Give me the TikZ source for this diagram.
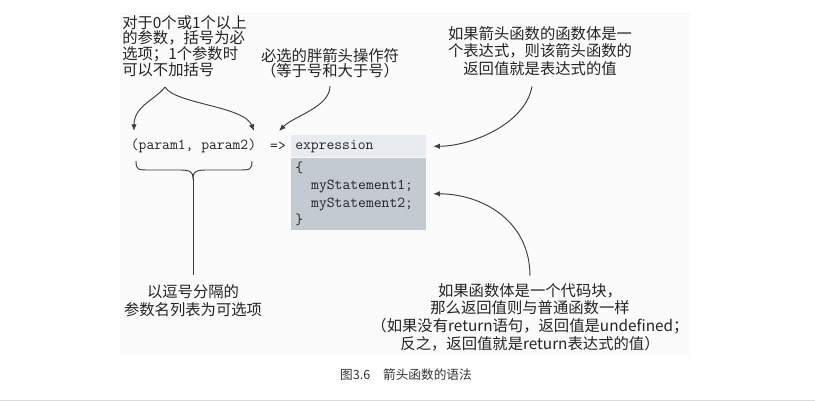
\documentclass[tikz,border=0pt]{standalone}
\usepackage{fontspec}
\newfontfamily\cjk{Noto Sans CJK SC}
\usetikzlibrary{arrows.meta}
\definecolor{panelbg}{RGB}{251,251,251}
\definecolor{exprbg}{RGB}{232,236,240}
\definecolor{bodybg}{RGB}{196,202,210}
\definecolor{ink}{RGB}{35,35,35}
\definecolor{wire}{RGB}{60,60,60}
\definecolor{rulegray}{RGB}{221,221,221}
\begin{document}
\begin{tikzpicture}[x=0.75pt, y=-0.75pt,
    note/.style={inner sep=0pt, text=ink, align=center, font=\cjk\fontsize{11.5}{#1}\selectfont},
    note/.default=13.2,
    code/.style={inner sep=0pt, text=ink, font=\ttfamily\fontsize{11.4}{13.1}\selectfont},
    callout/.style={draw=wire, line width=0.7pt, -{Latex[length=5pt,width=4pt]}},
    bracket/.style={draw=wire, line width=0.7pt}]
    \useasboundingbox (0,0) rectangle (815,403);
    \fill[panelbg] (120,12) rectangle (690,355);
    \draw[rulegray, line width=0.75pt] (0,400.5) -- (815,400.5);

    \node[code] (params) at (193.5,146) {(param1, param2)};
    \node[code] (fatarrow) at (278,146) {=>};
    \node[code, fill=exprbg, anchor=north west, align=left, text width=95.25pt,
        inner xsep=3pt, minimum height=16.5pt] (expr) at (291,135) {expression};
    \node[code, fill=bodybg, anchor=north west, align=left, text width=95.25pt,
        inner xsep=3pt, minimum height=54pt] (body) at (expr.south west)
        {\{\\\hspace*{1.05em}myStatement1;\\\hspace*{1.05em}myStatement2;\\\}};

    \node[note=11.7, align=left, anchor=west] (paramnote) at (122,46)
        {对于0个或1个以上\\的参数，括号为必\\选项；1个参数时\\可以不加括号};
    \node[note=11.3] (arrownote) at (330,63) {必选的胖箭头操作符\\（等于号和大于号）};
    \node[note=13.1] (exprnote) at (540,51)
        {如果箭头函数的函数体是一\\个表达式，则该箭头函数的\\返回值就是表达式的值};
    \node[note=13.5] (listnote) at (193,301) {以逗号分隔的\\参数名列表为可选项};
    \node[note=13.3] (bodynote) at (530,317)
        {如果函数体是一个代码块，\\那么返回值则与普通函数一样\\（如果没有return语句，返回值是undefined；\\反之，返回值就是return表达式的值）};
    \node[text=black!80, font=\cjk\fontsize{9.5}{11}\selectfont] (caption) at (406,375)
        {图3.6\quad 箭头函数的语法};

    \coordinate (paramtip) at (165,87);
    \coordinate (paramopen) at (134,131);
    \coordinate (paramclose) at (254,131);
    \coordinate (fattip) at (279,131);
    \coordinate (exprto) at ([xshift=5pt]expr.east);
    \coordinate (bodyto) at ([xshift=5pt]body.east);
    \coordinate (listtip) at (193,178);

    \draw[callout] (paramtip) .. controls +(-10,13) and +(0,-25) .. (paramopen);
    \draw[callout] (paramtip) .. controls +(10,17) and +(-10,-25) .. (paramclose);
    \draw[callout] ([yshift=-6pt]arrownote.south) .. controls +(0,21) and +(15,-15) .. (fattip);
    \draw[callout] ([xshift=-6pt, yshift=-8pt]exprnote.south) .. controls +(-7,38) and +(37,0) .. (exprto);
    \draw[callout] ([yshift=5pt]bodynote.north) .. controls +(0,-57) and +(47,0) .. (bodyto);

    \draw[bracket] (136,161) .. controls +(0,9) and +(-12,0) .. (150,170) -- (180,170)
        .. controls +(10,0) and +(0,-6) .. (listtip)
        .. controls +(0,-6) and +(-10,0) .. (206,170) -- (238,170)
        .. controls +(12,0) and +(0,9) .. (252,161);
    \draw[bracket, shorten >=7pt] (listtip) -- (listnote.north);
\end{tikzpicture}
\end{document}
